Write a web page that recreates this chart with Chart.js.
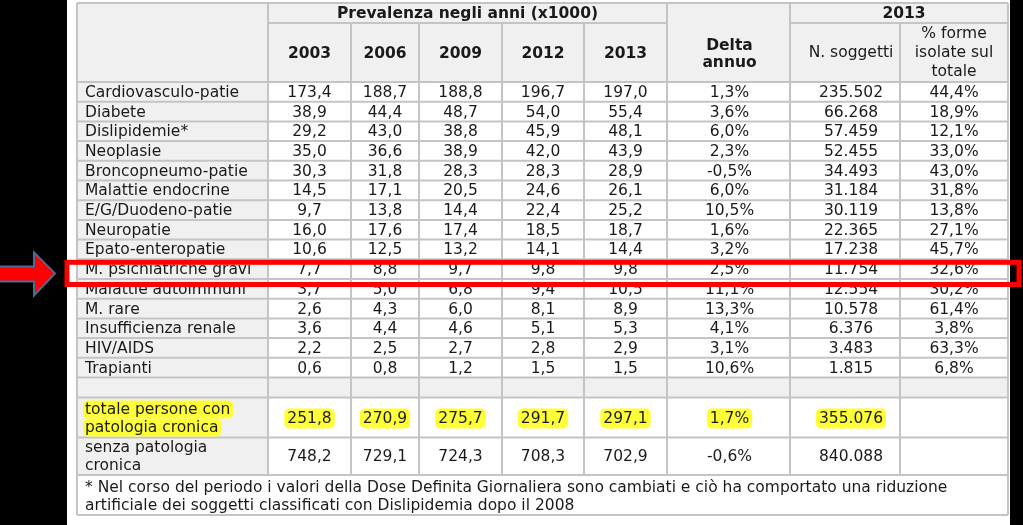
<!DOCTYPE html>
<html>
<head>
<meta charset="utf-8">
<script src="https://cdn.jsdelivr.net/npm/chart.js@4.4.1/dist/chart.umd.min.js"></script>
<style>
  html, body { margin: 0; padding: 0; background: #000; }
  canvas { display: block; }
</style>
</head>
<body>
<canvas id="prevChart" width="1023" height="525"></canvas>
<script>
// Dati della tabella
const categories = ['Cardiovasculo-patie', 'Diabete', 'Dislipidemie*', 'Neoplasie', 'Broncopneumo-patie',
  'Malattie endocrine', 'E/G/Duodeno-patie', 'Neuropatie', 'Epato-enteropatie', 'M. psichiatriche gravi',
  'Malattie autoimmuni', 'M. rare', 'Insufficienza renale', 'HIV/AIDS', 'Trapianti'];
const years = ['2003', '2006', '2009', '2012', '2013'];
const prev2003 = [173.4, 38.9, 29.2, 35.0, 30.3, 14.5, 9.7, 16.0, 10.6, 7.7, 3.7, 2.6, 3.6, 2.2, 0.6];
const prev2006 = [188.7, 44.4, 43.0, 36.6, 31.8, 17.1, 13.8, 17.6, 12.5, 8.8, 5.0, 4.3, 4.4, 2.5, 0.8];
const prev2009 = [188.8, 48.7, 38.8, 38.9, 28.3, 20.5, 14.4, 17.4, 13.2, 9.7, 6.8, 6.0, 4.6, 2.7, 1.2];
const prev2012 = [196.7, 54.0, 45.9, 42.0, 28.3, 24.6, 22.4, 18.5, 14.1, 9.8, 9.4, 8.1, 5.1, 2.8, 1.5];
const prev2013 = [197.0, 55.4, 48.1, 43.9, 28.9, 26.1, 25.2, 18.7, 14.4, 9.8, 10.5, 8.9, 5.3, 2.9, 1.5];
const deltaAnnuo = [1.3, 3.6, 6.0, 2.3, -0.5, 6.0, 10.5, 1.6, 3.2, 2.5, 11.1, 13.3, 4.1, 3.1, 10.6];
const nSoggetti = [235502, 66268, 57459, 52455, 34493, 31184, 30119, 22365, 17238, 11754, 12554, 10578, 6376, 3483, 1815];
const formeIsolate = [44.4, 18.9, 12.1, 33.0, 43.0, 31.8, 13.8, 27.1, 45.7, 32.6, 30.2, 61.4, 3.8, 63.3, 6.8];
const totaleCronici = [251.8, 270.9, 275.7, 291.7, 297.1];
const totaleDelta = 1.7;
const totaleSoggetti = 355076;
const senzaCronici = [748.2, 729.1, 724.3, 708.3, 702.9];
const senzaDelta = -0.6;
const senzaSoggetti = 840088;
const highlightRow = 'M. psichiatriche gravi';
const footnote = ['* Nel corso del periodo i valori della Dose Definita Giornaliera sono cambiati e ciò ha comportato una riduzione',
  'artificiale dei soggetti classificati con Dislipidemia dopo il 2008'];

// Impaginazione (pixel)
const colEdges = [77, 268, 351, 419, 502, 584, 667, 790, 900, 1008];
const textShift = [0, 0, 0, 0, 0, 0, 1, 6, 0];
const top0 = 3, hdr1 = 23, hdr2 = 82, rowH = 19.7;
const dataEnd = hdr2 + rowH * categories.length;
const emptyEnd = dataEnd + 20, totEnd = emptyEnd + 40, senzaEnd = totEnd + 37.5, noteEnd = senzaEnd + 40;
const FONT = '"DejaVu Sans", Verdana, sans-serif';
const SIZE = '15.5px ';
const GRID = '#c4c4c4', CELL = '#f0f0f0', INK = '#1a1a1a';

const fmt1 = v => v.toFixed(1).replace('.', ',');
const fmtPct = v => fmt1(v) + '%';
const fmtInt = v => String(v).replace(/\B(?=(\d{3})+(?!\d))/g, '.');
const colCenter = c => (colEdges[c] + colEdges[c + 1]) / 2 + textShift[c];
const rowCenter = i => hdr2 + rowH * (i + 0.5) + 1;

// una serie per colonna di valori
const columns = [prev2003, prev2006, prev2009, prev2012, prev2013, deltaAnnuo, nSoggetti, formeIsolate];
const formats = [fmt1, fmt1, fmt1, fmt1, fmt1, fmtPct, fmtInt, fmtPct];
const datasets = columns.map((vals, c) => ({
  label: c < 5 ? years[c] : ['Delta annuo', 'N. soggetti', '% forme isolate'][c - 5],
  data: vals.map((v, i) => ({ x: colCenter(c + 1), y: rowCenter(i), txt: formats[c](v) })),
  pointRadius: 0
}));
// righe dei totali
const totCenter = (emptyEnd + totEnd) / 2 + 1, senzaCenter = (totEnd + senzaEnd) / 2 + 1;
datasets.push({
  label: 'totale',
  data: totaleCronici.map((v, c) => ({ x: colCenter(c + 1), y: totCenter, txt: fmt1(v) }))
    .concat([{ x: colCenter(6), y: totCenter, txt: fmtPct(totaleDelta) }, { x: colCenter(7), y: totCenter, txt: fmtInt(totaleSoggetti) }]),
  pointRadius: 0, highlight: true
});
datasets.push({
  label: 'senza',
  data: senzaCronici.map((v, c) => ({ x: colCenter(c + 1), y: senzaCenter, txt: fmt1(v) }))
    .concat([{ x: colCenter(6), y: senzaCenter, txt: fmtPct(senzaDelta) }, { x: colCenter(7), y: senzaCenter, txt: fmtInt(senzaSoggetti) }]),
  pointRadius: 0
});

function yellowBox(ctx, x, y, w, h) {
  ctx.fillStyle = '#ffff38';
  ctx.beginPath();
  ctx.roundRect(x, y, w, h, 5);
  ctx.fill();
}

const tablePlugin = {
  id: 'tablePlugin',
  beforeDraw(chart) {
    const ctx = chart.ctx, sx = chart.scales.x, sy = chart.scales.y;
    const X = v => sx.getPixelForValue(v), Y = v => sy.getPixelForValue(v);
    const rect = (x0, y0, x1, y1, color) => { ctx.fillStyle = color; ctx.fillRect(X(x0), Y(y0), X(x1) - X(x0), Y(y1) - Y(y0)); };
    rect(0, 0, 1023, 525, '#000');
    rect(67, 0, 1010, 525, '#fff');
    // sfondi celle
    rect(colEdges[0], top0, colEdges[9], hdr2, CELL);
    rect(colEdges[0], hdr2, colEdges[1], senzaEnd, CELL);
    rect(colEdges[0], dataEnd, colEdges[9], emptyEnd, CELL);

    ctx.strokeStyle = GRID;
    ctx.lineWidth = 2;
    const hl = (y, x0, x1) => { ctx.beginPath(); ctx.moveTo(X(x0), Y(y)); ctx.lineTo(X(x1), Y(y)); ctx.stroke(); };
    const vl = (x, y0, y1) => { ctx.beginPath(); ctx.moveTo(X(x), Y(y0)); ctx.lineTo(X(x), Y(y1)); ctx.stroke(); };
    hl(top0, colEdges[0], colEdges[9]);
    hl(hdr1, colEdges[1], colEdges[6]);
    hl(hdr1, colEdges[7], colEdges[9]);
    hl(hdr2, colEdges[0], colEdges[9]);
    for (let i = 1; i <= categories.length; i++) hl(hdr2 + rowH * i, colEdges[0], colEdges[9]);
    [emptyEnd, totEnd, senzaEnd, noteEnd].forEach(y => hl(y, colEdges[0], colEdges[9]));
    colEdges.forEach((x, c) => {
      const y0 = (c >= 2 && c <= 5) || c === 8 ? hdr1 : top0;
      vl(x, y0, (c === 0 || c === 9) ? noteEnd : senzaEnd);
    });

    // intestazioni
    ctx.fillStyle = INK;
    ctx.textAlign = 'center';
    ctx.textBaseline = 'middle';
    ctx.font = 'bold ' + SIZE + FONT;
    ctx.fillText('Prevalenza negli anni (x1000)', X((colEdges[1] + colEdges[6]) / 2), Y(14));
    ctx.fillText('2013', X((colEdges[7] + colEdges[9]) / 2 + 5), Y(14));
    years.forEach((yr, c) => ctx.fillText(yr, X(colCenter(c + 1)), Y(54)));
    ctx.fillText('Delta', X(colCenter(6)), Y(46));
    ctx.fillText('annuo', X(colCenter(6)), Y(63));
    ctx.font = SIZE + FONT;
    ctx.fillText('N. soggetti', X(colCenter(7)), Y(53));
    ctx.fillText('% forme', X(colCenter(8)), Y(34));
    ctx.fillText('isolate sul', X(colCenter(8)), Y(53));
    ctx.fillText('totale', X(colCenter(8)), Y(72));

    // etichette di riga
    ctx.textAlign = 'left';
    categories.forEach((cat, i) => ctx.fillText(cat, X(85), Y(rowCenter(i))));
    const totLines = ['totale persone con', 'patologia cronica'];
    totLines.forEach((t, k) => {
      const w = ctx.measureText(t).width, yc = Y(totCenter - 9 + 18 * k);
      yellowBox(ctx, X(83), yc - 9, w + 5, 18);
    });
    ctx.fillStyle = INK;
    totLines.forEach((t, k) => ctx.fillText(t, X(85), Y(totCenter - 9 + 18 * k)));
    ['senza patologia', 'cronica'].forEach((t, k) => ctx.fillText(t, X(85), Y(senzaCenter - 9 + 18 * k)));
    footnote.forEach((t, k) => ctx.fillText(t, X(85), Y(senzaEnd + 13 + 18 * k)));
  },
  afterDatasetsDraw(chart) {
    const ctx = chart.ctx;
    ctx.save();
    ctx.font = SIZE + FONT;
    ctx.textAlign = 'center';
    ctx.textBaseline = 'middle';
    chart.data.datasets.forEach((ds, d) => {
      chart.getDatasetMeta(d).data.forEach((pt, i) => {
        const txt = ds.data[i].txt;
        if (ds.highlight) {
          const w = ctx.measureText(txt).width;
          yellowBox(ctx, pt.x - w / 2 - 3, pt.y - 10, w + 6, 20);
        }
        ctx.fillStyle = INK;
        ctx.fillText(txt, pt.x, pt.y);
      });
    });
    ctx.restore();
  },
  afterDraw(chart) {
    const ctx = chart.ctx, sx = chart.scales.x, sy = chart.scales.y;
    const X = v => sx.getPixelForValue(v), Y = v => sy.getPixelForValue(v);
    // riquadro rosso sulla riga evidenziata
    const r = categories.indexOf(highlightRow);
    const yTop = hdr2 + rowH * r + 3, yBot = hdr2 + rowH * (r + 1) + 5.5;
    ctx.save();
    ctx.strokeStyle = '#ff0000';
    ctx.lineWidth = 5;
    ctx.strokeRect(X(67), Y(yTop), X(1019) - X(67), Y(yBot) - Y(yTop));
    // freccia
    const yc = (yTop + yBot) / 2;
    ctx.beginPath();
    ctx.moveTo(X(-2), Y(yc - 7));
    ctx.lineTo(X(34), Y(yc - 7));
    ctx.lineTo(X(34), Y(yc - 21));
    ctx.lineTo(X(55), Y(yc));
    ctx.lineTo(X(34), Y(yc + 22));
    ctx.lineTo(X(34), Y(yc + 8));
    ctx.lineTo(X(-2), Y(yc + 8));
    ctx.closePath();
    ctx.fillStyle = '#ff0000';
    ctx.fill();
    ctx.strokeStyle = '#4a6d98';
    ctx.lineWidth = 2;
    ctx.stroke();
    ctx.restore();
  }
};

const ctx = document.getElementById('prevChart').getContext('2d');
const prevChart = new Chart(ctx, {
  type: 'scatter',
  data: { datasets: datasets },
  options: {
    responsive: false,
    animation: false,
    layout: { padding: 0 },
    plugins: { legend: { display: false }, tooltip: { enabled: false } },
    scales: {
      x: { type: 'linear', min: 0, max: 1023, display: false },
      y: { type: 'linear', min: 0, max: 525, reverse: true, display: false }
    }
  },
  plugins: [tablePlugin]
});
</script>
</body>
</html>
